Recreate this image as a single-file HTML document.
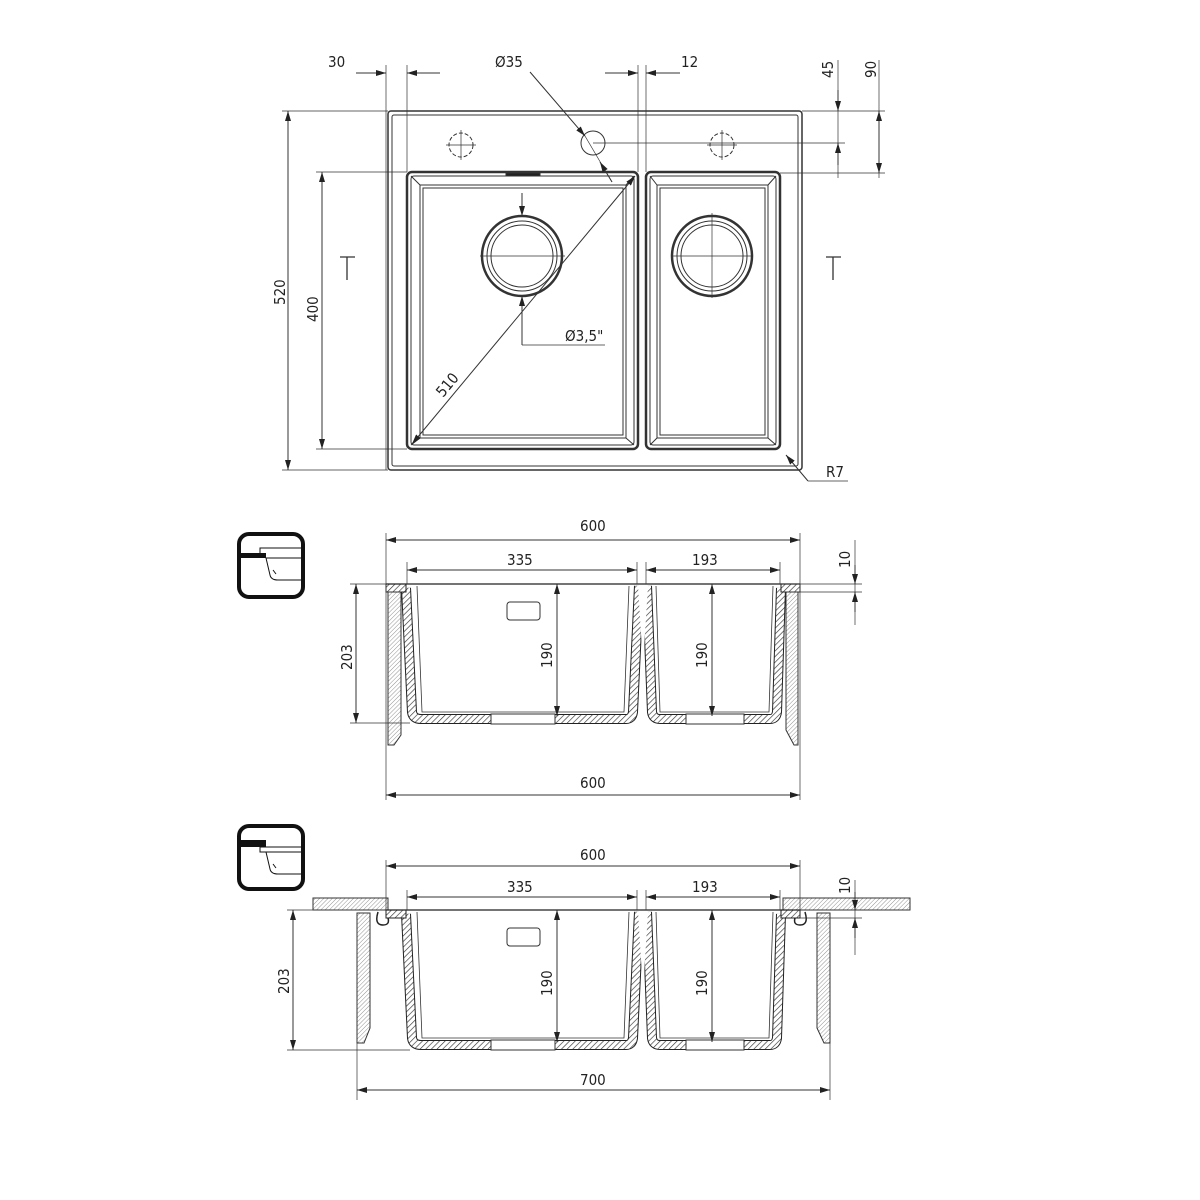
<!DOCTYPE html>
<html><head><meta charset="utf-8"><style>
html,body{margin:0;padding:0;background:#fff}
svg{display:block}
text{font-family:"DejaVu Sans Condensed","Liberation Sans",sans-serif;font-stretch:condensed;font-size:15px;fill:#222}
</style></head><body>
<svg width="1200" height="1200" viewBox="0 0 1200 1200" xmlns="http://www.w3.org/2000/svg">
<defs>
<pattern id="h" width="4" height="4" patternUnits="userSpaceOnUse" patternTransform="rotate(45)">
<rect width="4" height="4" fill="#fff"/><line x1="0" y1="0" x2="0" y2="4" stroke="#333" stroke-width="1.3"/></pattern>
<pattern id="h2" width="3" height="3" patternUnits="userSpaceOnUse" patternTransform="rotate(45)">
<rect width="3" height="3" fill="#fff"/><line x1="0" y1="0" x2="0" y2="3" stroke="#777" stroke-width="0.8"/></pattern>
<marker id="a" viewBox="0 0 10 6" refX="10" refY="3" markerWidth="10" markerHeight="6" orient="auto-start-reverse" markerUnits="userSpaceOnUse"><path d="M0,0L10,3L0,6z" fill="#222"/></marker>
</defs>
<g fill="none" stroke="#333" stroke-width="1">
<!-- ===== TOP VIEW ===== -->
<rect x="388" y="111" width="414" height="359" rx="3" stroke-width="1.5"/>
<rect x="392" y="115" width="406" height="351" rx="2"/>
<!-- left bowl -->
<rect x="407" y="172" width="231" height="277" rx="5" stroke-width="2.5"/>
<rect x="411" y="176" width="223" height="269" rx="3"/>
<rect x="420" y="185" width="206" height="253"/>
<rect x="423" y="188" width="200" height="247"/>
<path d="M411,176L420,185M634,176L626,185M411,445L420,438M634,445L626,438"/>
<rect x="506" y="173" width="34" height="3" fill="#222"/>
<!-- right bowl -->
<rect x="646" y="172" width="134" height="277" rx="5" stroke-width="2.5"/>
<rect x="650" y="176" width="126" height="269" rx="3"/>
<rect x="657" y="185" width="111" height="253"/>
<rect x="660" y="188" width="105" height="247"/>
<path d="M650,176L657,185M776,176L768,185M650,445L657,438M776,445L768,438"/>
<!-- drains -->
<circle cx="522" cy="256" r="40" stroke-width="2.5"/><circle cx="522" cy="256" r="35"/><circle cx="522" cy="256" r="31"/>
<circle cx="712" cy="256" r="40" stroke-width="2.5"/><circle cx="712" cy="256" r="35"/><circle cx="712" cy="256" r="31"/>
<path d="M480,256H565M673,256H753M712,213V298" stroke-width="0.7"/>
<!-- tap holes -->
<circle cx="461" cy="145" r="12" stroke-dasharray="4,2"/><path d="M446,145H476M461,130V160" stroke-width="0.7"/>
<circle cx="722" cy="145" r="12" stroke-dasharray="4,2"/><path d="M707,145H737M722,130V160" stroke-width="0.7"/>
<circle cx="593" cy="143" r="12"/>
<!-- dims top -->
<path d="M386,65V470M407,65V172M638,65V172M646,65V172" stroke-width="0.7"/>
<path d="M356,73H386" marker-end="url(#a)"/><path d="M440,73H407" marker-end="url(#a)"/>
<path d="M605,73H638" marker-end="url(#a)"/><path d="M680,73H646" marker-end="url(#a)"/>
<path d="M530,72L585,136" marker-end="url(#a)"/><path d="M585,136L612,182" stroke-width="0.7"/>
<path d="M612,182L600,162" marker-end="url(#a)"/>
<path d="M802,111H885M593,143H845M780,173H885" stroke-width="0.7"/>
<path d="M838,60V178" stroke-width="0.7"/>
<path d="M838,90V111" marker-end="url(#a)"/><path d="M838,165V143" marker-end="url(#a)"/>
<path d="M879,60V178" stroke-width="0.7"/>
<path d="M879,111V173" marker-start="url(#a)" marker-end="url(#a)"/>
<path d="M282,111H388M282,470H388M316,172H407M316,449H407" stroke-width="0.7"/>
<path d="M288,111V470" marker-start="url(#a)" marker-end="url(#a)"/>
<path d="M322,172V449" marker-start="url(#a)" marker-end="url(#a)"/>
<path d="M412,444L635,176" marker-start="url(#a)" marker-end="url(#a)"/>
<path d="M522,193V216" marker-end="url(#a)"/>
<path d="M522,345V296" marker-end="url(#a)"/><path d="M522,345H605" stroke-width="0.7"/>
<path d="M808,481L786,455" marker-end="url(#a)"/><path d="M808,481H848" stroke-width="0.7"/>
<path d="M340,257H355M347,257V280M826,257H841M833,257V280" stroke-width="1.3"/>
</g>
<g>
<text x="328" y="67">30</text>
<text x="495" y="67">Ø35</text>
<text x="681" y="67">12</text>
<text transform="translate(833,78) rotate(-90)">45</text>
<text transform="translate(876,78) rotate(-90)">90</text>
<text transform="translate(285,305) rotate(-90)">520</text>
<text transform="translate(318,322) rotate(-90)">400</text>
<text transform="translate(443,398) rotate(-50)">510</text>
<text x="565" y="341">Ø3,5"</text>
<text x="826" y="477">R7</text>
</g>

<!-- ===== ICONS ===== -->
<g fill="none" stroke="#111">
<rect x="239" y="534" width="64" height="63" rx="10" stroke-width="4"/>
<rect x="241" y="553" width="25" height="5" fill="#111" stroke="none"/>
<path d="M260,553V548H302M266,558H302M266,558L270,575Q271,580 278,580H302M273,570L276,574" stroke-width="1"/>
<rect x="239" y="826" width="64" height="63" rx="10" stroke-width="4"/>
<rect x="241" y="840" width="25" height="7" fill="#111" stroke="none"/>
<path d="M260,847H302M260,847V852H302M266,852L270,869Q271,874 278,874H302M273,864L276,868" stroke-width="1"/>
</g>

<!-- ===== SECTION (common bowls) ===== -->
<g id="bowls">
<path d="M406,588L412,712Q413,719 421,719L626,719Q632,719 633,712L639,586" fill="none" stroke="#222" stroke-width="10"/>
<path d="M406,588L412,712Q413,719 421,719L626,719Q632,719 633,712L639,586" fill="none" stroke="url(#h)" stroke-width="8"/>
<path d="M647,586L652,712Q653,719 660,719L770,719Q776,719 777,712L781,588" fill="none" stroke="#222" stroke-width="10"/>
<path d="M647,586L652,712Q653,719 660,719L770,719Q776,719 777,712L781,588" fill="none" stroke="url(#h)" stroke-width="8"/>
<rect x="491" y="714" width="64" height="10" fill="#fff" stroke="#333"/>
<rect x="686" y="714" width="58" height="10" fill="#fff" stroke="#333"/>
<path d="M417,586L422,712H624L629,586M656,586L660,712H769L773,586" fill="none" stroke="#333" stroke-width="0.8"/>
<rect x="507" y="602" width="33" height="18" rx="3" fill="none" stroke="#333"/>
<path d="M638,586L643,665L648,586Z" fill="#fff" stroke="none"/>
</g>

<!-- Section 1 -->
<g>
<rect x="386" y="584" width="20" height="8" fill="url(#h)" stroke="#222"/>
<rect x="781" y="584" width="19" height="8" fill="url(#h)" stroke="#222"/>
<path d="M388,592H401V735L394,745H388Z" fill="url(#h2)" stroke="#333"/>
<path d="M786,592H798V745H794L786,730Z" fill="url(#h2)" stroke="#333"/>
<line x1="386" y1="584" x2="800" y2="584" stroke="#222" stroke-width="1.2"/>
</g>
<g fill="none" stroke="#333" stroke-width="1">
<path d="M386,533V800M800,533V800" stroke-width="0.7"/>
<path d="M386,540H800" marker-start="url(#a)" marker-end="url(#a)"/>
<path d="M407,570H637" marker-start="url(#a)" marker-end="url(#a)"/>
<path d="M646,570H780" marker-start="url(#a)" marker-end="url(#a)"/>
<path d="M407,562V584M637,562V584M646,562V584M780,562V584" stroke-width="0.7"/>
<path d="M780,584H862M787,592H862" stroke-width="0.7"/>
<path d="M855,540V625" stroke-width="0.7"/>
<path d="M855,565V584" marker-end="url(#a)"/><path d="M855,612V592" marker-end="url(#a)"/>
<path d="M350,584H386M350,723H410" stroke-width="0.7"/>
<path d="M356,584V723" marker-start="url(#a)" marker-end="url(#a)"/>
<path d="M557,584V716" marker-start="url(#a)" marker-end="url(#a)"/>
<path d="M712,584V716" marker-start="url(#a)" marker-end="url(#a)"/>
<path d="M386,795H800" marker-start="url(#a)" marker-end="url(#a)"/>
</g>
<g>
<text x="580" y="531">600</text>
<text x="507" y="565">335</text>
<text x="692" y="565">193</text>
<text transform="translate(850,568) rotate(-90)">10</text>
<text transform="translate(352,670) rotate(-90)">203</text>
<text transform="translate(552,668) rotate(-90)">190</text>
<text transform="translate(707,668) rotate(-90)">190</text>
<text x="580" y="788">600</text>
</g>

<!-- Section 2 -->
<use href="#bowls" transform="translate(0,326)"/>
<g>
<rect x="313" y="898" width="75" height="12" fill="url(#h2)" stroke="#333"/>
<rect x="783" y="898" width="127" height="12" fill="url(#h2)" stroke="#333"/>
<rect x="386" y="910" width="20" height="8" fill="url(#h)" stroke="#222"/>
<rect x="781" y="910" width="19" height="8" fill="url(#h)" stroke="#222"/>
<path d="M357,913H370V1028L364,1043H357Z" fill="url(#h2)" stroke="#333"/>
<path d="M817,913H830V1043H824L817,1028Z" fill="url(#h2)" stroke="#333"/>
<path d="M378,912Q374,925 383,925Q390,925 388,918M805,912Q809,925 800,925Q793,925 795,918" fill="none" stroke="#222" stroke-width="1.5"/>
<line x1="386" y1="910" x2="800" y2="910" stroke="#222" stroke-width="1.2"/>
</g>
<g fill="none" stroke="#333" stroke-width="1">
<path d="M386,860V910M800,860V910" stroke-width="0.7"/>
<path d="M386,866H800" marker-start="url(#a)" marker-end="url(#a)"/>
<path d="M407,897H637" marker-start="url(#a)" marker-end="url(#a)"/>
<path d="M646,897H780" marker-start="url(#a)" marker-end="url(#a)"/>
<path d="M407,890V910M637,890V910M646,890V910M780,890V910" stroke-width="0.7"/>
<path d="M800,918H862" stroke-width="0.7"/>
<path d="M855,880V955" stroke-width="0.7"/>
<path d="M855,892V910" marker-end="url(#a)"/><path d="M855,938V918" marker-end="url(#a)"/>
<path d="M287,910H313M287,1050H410" stroke-width="0.7"/>
<path d="M293,910V1050" marker-start="url(#a)" marker-end="url(#a)"/>
<path d="M557,910V1042" marker-start="url(#a)" marker-end="url(#a)"/>
<path d="M712,910V1042" marker-start="url(#a)" marker-end="url(#a)"/>
<path d="M357,1043V1100M830,1043V1100" stroke-width="0.7"/>
<path d="M357,1090H830" marker-start="url(#a)" marker-end="url(#a)"/>
</g>
<g>
<text x="580" y="860">600</text>
<text x="507" y="892">335</text>
<text x="692" y="892">193</text>
<text transform="translate(850,894) rotate(-90)">10</text>
<text transform="translate(289,994) rotate(-90)">203</text>
<text transform="translate(552,996) rotate(-90)">190</text>
<text transform="translate(707,996) rotate(-90)">190</text>
<text x="580" y="1085">700</text>
</g>
</svg>
</body></html>
